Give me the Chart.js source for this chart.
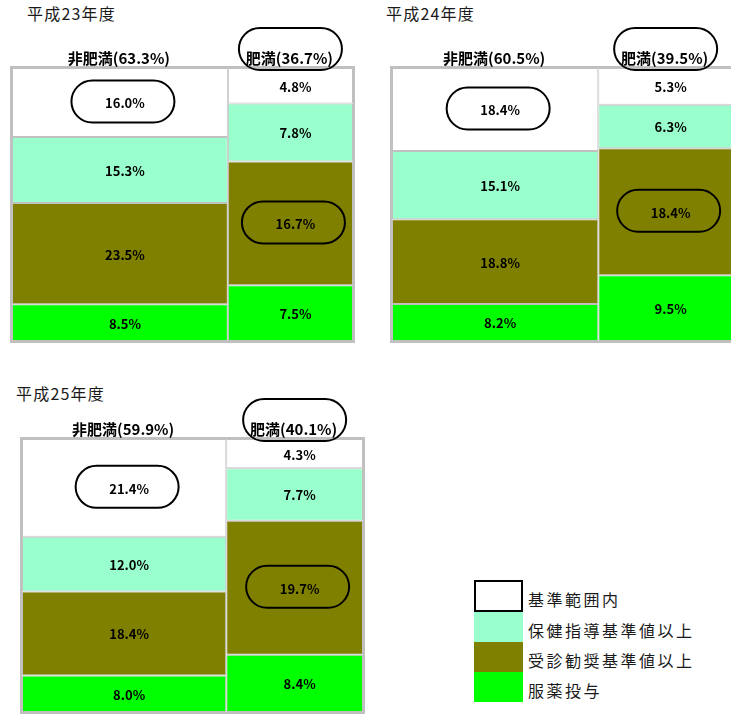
<!DOCTYPE html>
<html lang="ja">
<head>
<meta charset="utf-8">
<title>肥満・非肥満別 検査値の区分</title>
<script src="https://cdn.jsdelivr.net/npm/chart.js@4/dist/chart.umd.min.js"></script>
<style>
  html, body { margin: 0; padding: 0; background: #fff; overflow: hidden; }
  body { position: relative; width: 731px; height: 715px; font-family: "Noto Sans CJK JP", sans-serif; }
  .panel { position: absolute; width: 365px; }
  .year { position: absolute; font-size: 16px; line-height: 16px; letter-spacing: 1.2px; color: #1a1a1a; white-space: nowrap; }
  #legend { position: absolute; left: 474px; top: 580px; }
  .row { display: flex; align-items: center; height: 30px; }
  .row .box { width: 49px; height: 30px; box-sizing: border-box; }
  .row .name { margin-left: 5px; position: relative; top: 3px; font-size: 16px; letter-spacing: 2.5px; color: #1a1a1a; white-space: nowrap; }
</style>
</head>
<body>
<div class="year" id="y0" style="left:27px;top:5px"></div>
<div class="year" id="y1" style="left:386px;top:5px"></div>
<div class="year" id="y2" style="left:16px;top:385px"></div>
<div class="panel" style="left:0;top:0;height:350px"><canvas id="c0"></canvas></div>
<div class="panel" style="left:380px;top:0;height:350px"><canvas id="c1"></canvas></div>
<div class="panel" style="left:10px;top:371px;height:344px"><canvas id="c2"></canvas></div>
<div id="legend"></div>
<script>
const categories = ['基準範囲内', '保健指導基準値以上', '受診勧奨基準値以上', '服薬投与'];
const groups = ['非肥満', '肥満'];
const years = ['平成23年度', '平成24年度', '平成25年度'];

// 非肥満・肥満の構成比（列の幅）
const shareH23 = [63.3, 36.7];
const shareH24 = [60.5, 39.5];
const shareH25 = [59.9, 40.1];

// 区分ごとの割合：基準範囲内, 保健指導, 受診勧奨, 服薬投与
const nonObeseH23 = [16.0, 15.3, 23.5, 8.5];
const obeseH23 = [4.8, 7.8, 16.7, 7.5];
const nonObeseH24 = [18.4, 15.1, 18.8, 8.2];
const obeseH24 = [5.3, 6.3, 18.4, 9.5];
const nonObeseH25 = [21.4, 12.0, 18.4, 8.0];
const obeseH25 = [4.3, 7.7, 19.7, 8.4];

const colors = ['#ffffff', '#99ffcc', '#808000', '#00ff00'];
// 丸で囲む区分（列ごと）
const circled = ['基準範囲内', '受診勧奨基準値以上'];

function capsule(ctx, cx, cy) {
  const w = 103, h = 42;
  ctx.beginPath();
  ctx.roundRect(cx - w / 2, cy - h / 2, w, h, h / 2);
  ctx.stroke();
}

const mekko = {
  id: 'mekko',
  // 列の幅を構成比に合わせる
  afterDatasetsUpdate(chart, args, opts) {
    const x = chart.scales.x;
    chart.data.datasets.forEach((ds, i) => {
      chart.getDatasetMeta(i).data.forEach((bar, j) => {
        const from = opts.share.slice(0, j).reduce((a, b) => a + b, 0);
        const left = x.getPixelForValue(from);
        const right = x.getPixelForValue(from + opts.share[j]);
        bar.x = (left + right) / 2;
        bar.width = right - left;
      });
    });
  },
  afterDatasetsDraw(chart, args, opts) {
    const { ctx, chartArea: a } = chart;
    ctx.save();
    ctx.strokeStyle = '#c0c0c0';
    ctx.lineWidth = 2;
    ctx.strokeRect(a.left - 1, a.top - 1, a.width + 2, a.height + 2);

    ctx.fillStyle = '#000';
    ctx.strokeStyle = '#000';
    ctx.lineWidth = 2;
    ctx.textAlign = 'center';
    ctx.textBaseline = 'middle';
    ctx.font = 'bold 13px "Noto Sans CJK JP"';
    chart.data.datasets.forEach((ds, i) => {
      chart.getDatasetMeta(i).data.forEach((bar, j) => {
        const cy = (bar.y + bar.base) / 2;
        ctx.fillText(ds.data[j].value.toFixed(1) + '%', bar.x + 5, cy + 1);
        if (circled[j] === ds.label) capsule(ctx, bar.x + 3, cy - 1);
      });
    });

    // 列見出し
    ctx.font = 'bold 15px "Noto Sans CJK JP"';
    chart.getDatasetMeta(0).data.forEach((bar, j) => {
      ctx.fillText(groups[j] + '(' + opts.share[j].toFixed(1) + '%)', bar.x - 1, a.top - 10);
      if (j === 1) capsule(ctx, bar.x, a.top - 19);
    });
    ctx.restore();
  }
};

function drawPanel(canvasId, share, cols, bottomPad) {
  let acc = 0;
  const centers = share.map(s => { const c = acc + s / 2; acc += s; return c; });
  const totals = cols.map(col => col.reduce((a, b) => a + b, 0));
  // 下から 服薬投与 → 基準範囲内 の順に積む
  const datasets = [3, 2, 1, 0].map(k => ({
    label: categories[k],
    data: cols.map((col, j) => ({ x: centers[j], y: col[k] / totals[j] * 100, value: col[k] })),
    backgroundColor: colors[k],
    borderColor: '#c0c0c0',
    borderWidth: 1,
    borderSkipped: false
  }));

  new Chart(document.getElementById(canvasId), {
    type: 'bar',
    data: { datasets },
    options: {
      responsive: true,
      maintainAspectRatio: false,
      animation: false,
      layout: { padding: { left: 12, top: 68, right: 12, bottom: bottomPad } },
      scales: {
        x: { type: 'linear', min: 0, max: 100, offset: false, stacked: true, display: false },
        y: { min: 0, max: 100, stacked: true, display: false }
      },
      plugins: {
        legend: { display: false },
        tooltip: { enabled: false },
        mekko: { share }
      }
    },
    plugins: [mekko]
  });
}

years.forEach((y, i) => { document.getElementById('y' + i).textContent = y; });

drawPanel('c0', shareH23, [nonObeseH23, obeseH23], 9);
drawPanel('c1', shareH24, [nonObeseH24, obeseH24], 9);
drawPanel('c2', shareH25, [nonObeseH25, obeseH25], 3);

// 凡例
const legend = document.getElementById('legend');
categories.forEach((name, k) => {
  const row = document.createElement('div');
  row.className = 'row';
  const box = document.createElement('div');
  box.className = 'box';
  box.style.background = colors[k];
  if (k === 0) {
    row.style.height = '32px';
    box.style.height = '32px';
    box.style.border = '2px solid #000';
  }
  const label = document.createElement('span');
  label.className = 'name';
  label.textContent = name;
  row.appendChild(box);
  row.appendChild(label);
  legend.appendChild(row);
});
</script>
</body>
</html>
